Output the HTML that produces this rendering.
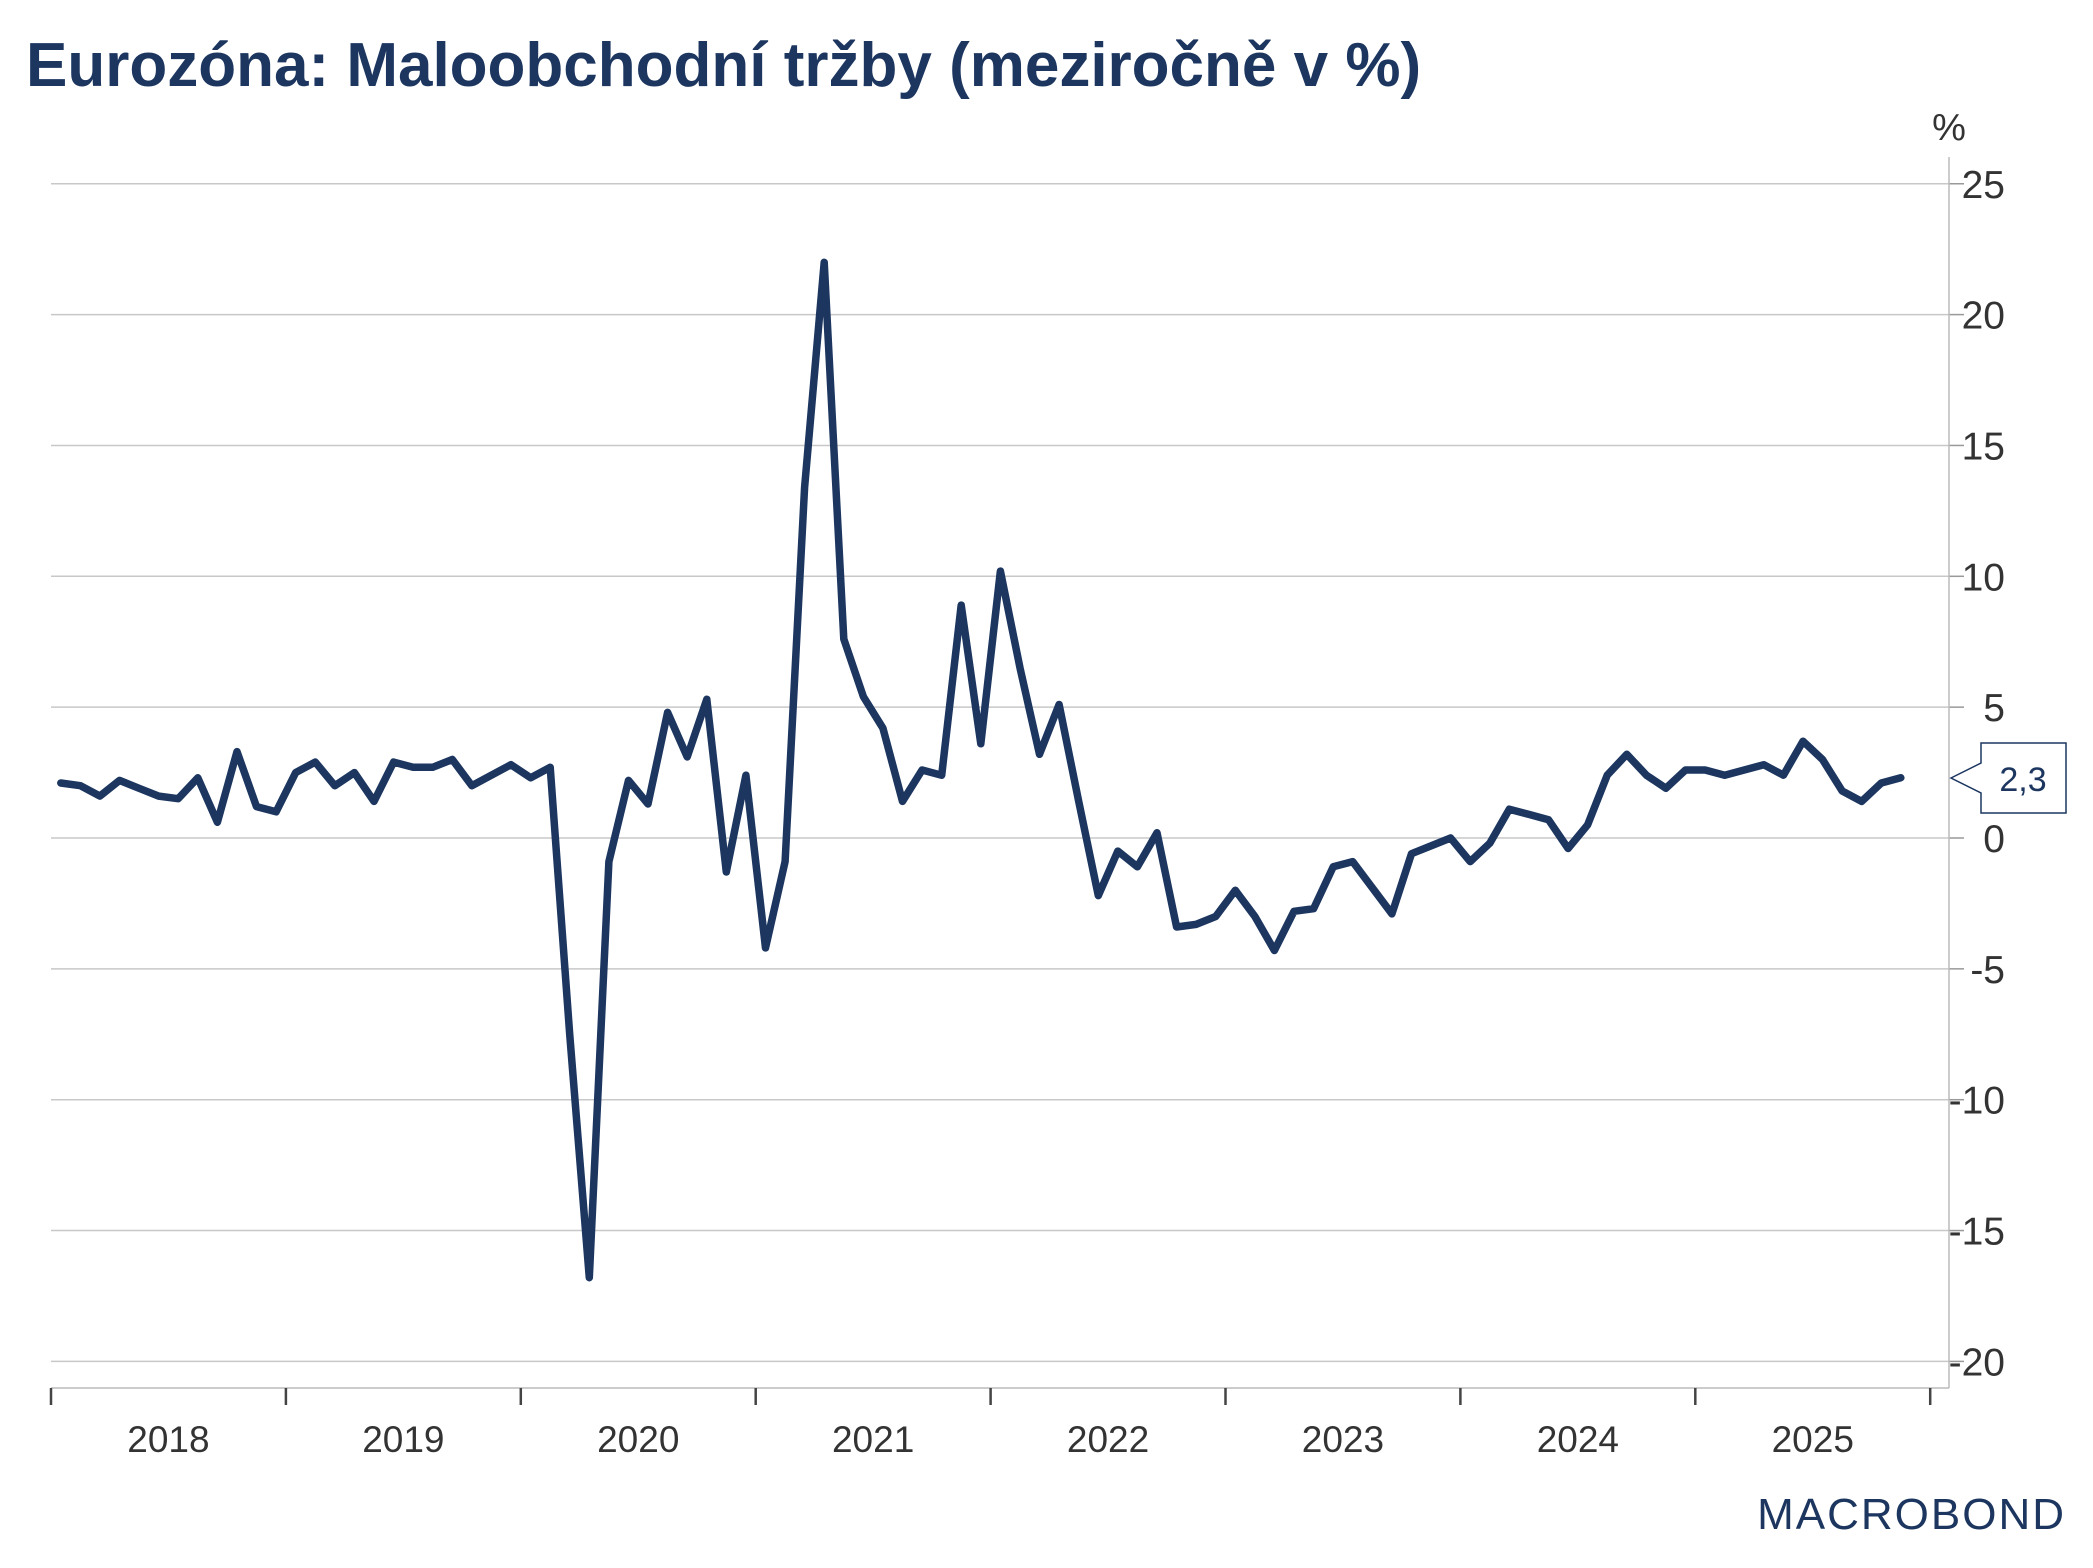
<!DOCTYPE html>
<html><head><meta charset="utf-8"><style>
html,body{margin:0;padding:0;background:#fff}
svg{display:block}
text{font-family:"Liberation Sans",sans-serif}
</style></head><body>
<svg id="chart" width="2093" height="1568" viewBox="0 0 2093 1568" xmlns="http://www.w3.org/2000/svg">
<text x="26" y="86" font-size="62" font-weight="bold" fill="#1c3660">Eurozóna: Maloobchodní tržby (meziročně v %)</text>
<text x="1949" y="140" font-size="38" fill="#333" text-anchor="middle">%</text>
<g id="grid"></g>
<g id="axes"></g>
<g id="series"></g>
<g>
<path d="M1951,778 L1981,763 L1981,743 L2066,743 L2066,813 L1981,813 L1981,793 Z" fill="#fff" stroke="#1c3660" stroke-width="1.5"/>
<text x="2023" y="791" font-size="34" fill="#1c3660" text-anchor="middle" id="lastLabel">2,3</text>
</g>
<text x="2066" y="1529" font-size="44" fill="#1c3660" text-anchor="end" letter-spacing="2">MACROBOND</text>
</svg>
<script>
const years = ["2018","2019","2020","2021","2022","2023","2024","2025"];
const yTicks = [25,20,15,10,5,0,-5,-10,-15,-20];
const values = [2.1,2.0,1.6,2.2,1.9,1.6,1.5,2.3,0.6,3.3,1.2,1.0,
2.5,2.9,2.0,2.5,1.4,2.9,2.7,2.7,3.0,2.0,2.4,2.8,
2.3,2.7,-7.5,-16.8,-0.9,2.2,1.3,4.8,3.1,5.3,-1.3,2.4,
-4.2,-0.9,13.4,22.0,7.6,5.4,4.2,1.4,2.6,2.4,8.9,3.6,
10.2,6.5,3.2,5.1,1.4,-2.2,-0.5,-1.1,0.2,-3.4,-3.3,-3.0,
-2.0,-3.0,-4.3,-2.8,-2.7,-1.1,-0.9,-1.9,-2.9,-0.6,-0.3,0.0,
-0.9,-0.2,1.1,0.9,0.7,-0.4,0.5,2.4,3.2,2.4,1.9,2.6,
2.6,2.4,2.6,2.8,2.4,3.7,3.0,1.8,1.4,2.1,2.3];
const NS="http://www.w3.org/2000/svg";
const x0=51, yearW=234.9, xEnd=1949;
const y=v=>838-v*26.17;
const xm=i=>x0+(i+0.5)*yearW/12;
function el(tag,attrs,parent){const e=document.createElementNS(NS,tag);for(const k in attrs)e.setAttribute(k,attrs[k]);parent.appendChild(e);return e;}
const grid=document.getElementById('grid'), axes=document.getElementById('axes'), series=document.getElementById('series');
yTicks.forEach(t=>{
  const g=el('line',{x1:x0,x2:xEnd,y1:y(t),y2:y(t),stroke:'#c8c8c8','stroke-width':1.5},grid);
  
  
  const tk=el('line',{x1:xEnd,x2:xEnd+15,y1:y(t),y2:y(t),stroke:'#999','stroke-width':1.5},axes);
  
  
  const lb=el('text',{x:2005,y:y(t)+14,'font-size':39,fill:'#333','text-anchor':'end'},axes);
  lb.textContent=String(t);
  
  
});
const ya=el('line',{x1:xEnd,x2:xEnd,y1:157,y2:1388,stroke:'#bbb','stroke-width':1.5},axes);


const xa=el('line',{x1:x0,x2:xEnd,y1:1388,y2:1388,stroke:'#bbb','stroke-width':1.5},axes);


for(let k=0;k<=years.length;k++){
  const tx=x0+k*yearW;
  const t=el('line',{x1:tx,x2:tx,y1:1388,y2:1405,stroke:'#444','stroke-width':2.5},axes);
  
  
}
years.forEach((yr,k)=>{
  const lb=el('text',{x:x0+(k+0.5)*yearW,y:1452,'font-size':37,fill:'#333','text-anchor':'middle'},axes);
  lb.textContent=yr;
  
  
});
const pts=values.map((v,i)=>xm(i).toFixed(1)+','+y(v).toFixed(1)).join(' ');
const line=el('polyline',{points:pts,fill:'none',stroke:'#1c3660','stroke-width':7.5,'stroke-linejoin':'round','stroke-linecap':'round'},series);


const last=values[values.length-1];
document.getElementById('lastLabel').textContent=String(last).replace('.',',');
</script>
</body></html>
